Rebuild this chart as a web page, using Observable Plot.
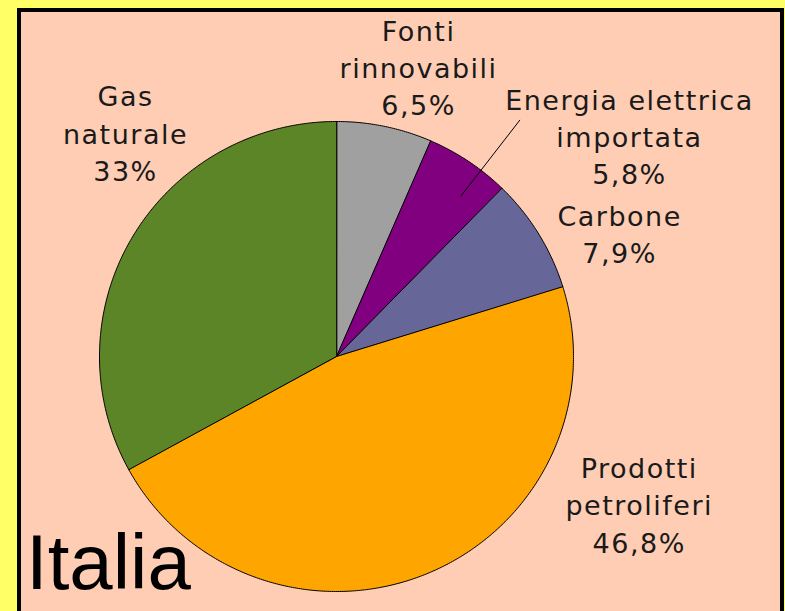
<!DOCTYPE html>
<html>
<head>
<meta charset="utf-8">
<script src="https://cdn.jsdelivr.net/npm/d3@7"></script>
<script src="https://cdn.jsdelivr.net/npm/@observablehq/plot@0.6"></script>
<style>
  html, body { margin: 0; padding: 0; }
  body { width: 785px; height: 611px; overflow: hidden; background: #ffff66; position: relative; }
  #frame { position: absolute; left: 17px; top: 8px; width: 767px; height: 640px; box-sizing: border-box;
           border: 4px solid #000; background: #ffcdb4; }
  #chart { position: absolute; left: 0; top: 0; }
  #chart svg text { letter-spacing: 1.5px; }
  #title { position: absolute; left: 26px; top: 523px; font-family: "Liberation Sans", Arial, sans-serif;
           font-size: 78px; line-height: 78px; color: #000; }
</style>
</head>
<body>
<div id="frame"></div>
<div id="chart"></div>
<div id="title">Italia</div>
<script>
// ---- data ----
const names = ["Fonti rinnovabili", "Energia elettrica importata", "Carbone", "Prodotti petroliferi", "Gas naturale"];
const nameLines = ["Fonti\nrinnovabili", "Energia elettrica\nimportata", "Carbone", "Prodotti\npetroliferi", "Gas\nnaturale"];
const values = [6.5, 5.8, 7.9, 46.8, 33];
const valueText = ["6,5%", "5,8%", "7,9%", "46,8%", "33%"];
const colors = ["#a0a0a0", "#800080", "#666699", "#ffa500", "#5b8527"];

// ---- layout ----
const cx = 336, cy = 356, rx = 237, ry = 235;
const labelOffsets = [[34, -112], [161, -78], [81, -34], [210, -121], [-7, -157]];

const arcs = d3.pie().sort(null).value(d => d)(values);
const pts = [];
arcs.forEach((a, i) => {
  pts.push({name: names[i], x: 0, y: 0});
  const n = Math.max(2, Math.ceil((a.endAngle - a.startAngle) / (Math.PI / 360)));
  for (let k = 0; k <= n; k++) {
    const t = a.startAngle + (a.endAngle - a.startAngle) * k / n;
    pts.push({name: names[i], x: Math.sin(t), y: Math.cos(t)});
  }
});

const labels = arcs.map((a, i) => {
  const m = (a.startAngle + a.endAngle) / 2;
  return {x: Math.sin(m), y: Math.cos(m), text: nameLines[i] + "\n" + valueText[i], i};
});

// leader line for "Energia elettrica importata"
const ea = arcs[1];
const leadAngle = (ea.startAngle + ea.endAngle) / 2 + 0.065;
const leader = [{x1: Math.sin(leadAngle) * 0.86, y1: Math.cos(leadAngle) * 0.86,
                 x2: Math.sin(leadAngle) * 1.27, y2: Math.cos(leadAngle) * 1.27}];

const chart = Plot.plot({
  width: 785,
  height: 611,
  margin: 0,
  x: {domain: [-1, 1], range: [cx - rx, cx + rx], axis: null},
  y: {domain: [-1, 1], range: [cy + ry, cy - ry], axis: null},
  color: {domain: names, range: colors},
  style: {background: "transparent", overflow: "visible"},
  marks: [
    Plot.line(pts, {x: "x", y: "y", z: "name", fill: "name", stroke: "#000", strokeWidth: 1, curve: "linear-closed"}),
    Plot.link(leader, {x1: "x1", y1: "y1", x2: "x2", y2: "y2", stroke: "#000", strokeWidth: 1}),
    ...labels.map(l => Plot.text([l], {
      x: "x", y: "y", text: "text",
      dx: labelOffsets[l.i][0], dy: labelOffsets[l.i][1],
      textAnchor: "middle", lineAnchor: "top", lineHeight: 1.38,
      fontFamily: "DejaVu Sans", fontSize: 27, fill: "#1a1a1a"
    }))
  ]
});
document.getElementById("chart").appendChild(chart);
</script>
</body>
</html>
